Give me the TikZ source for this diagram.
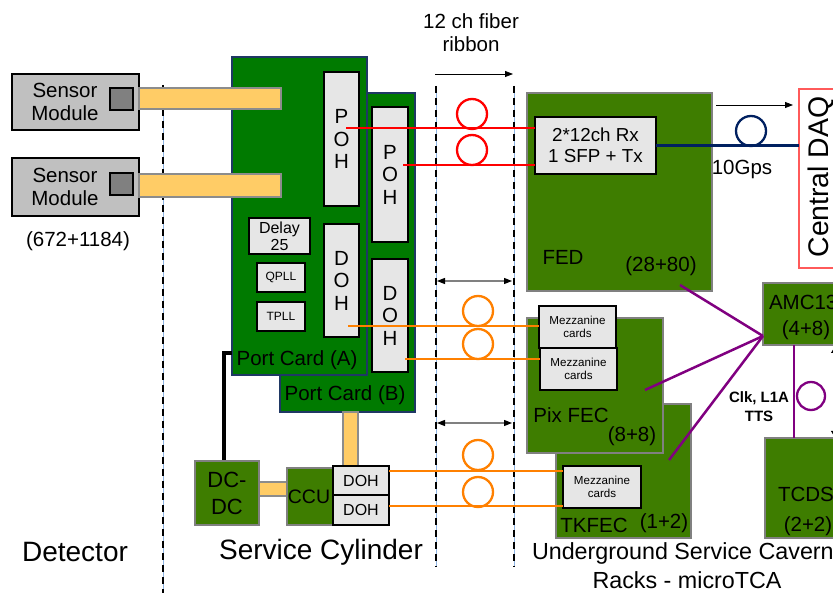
\documentclass[tikz,border=0pt]{standalone}
\usepackage{fontspec}
\setmainfont{Liberation Sans}
\usetikzlibrary{arrows.meta}
\definecolor{sensgray}{RGB}{192,192,192}
\definecolor{sqgray}{RGB}{128,128,128}
\definecolor{ybar}{RGB}{255,204,102}
\definecolor{ybord}{RGB}{140,140,140}
\definecolor{pcgreen}{RGB}{0,122,0}
\definecolor{pcbord}{RGB}{31,56,100}
\definecolor{lbox}{RGB}{230,230,230}
\definecolor{olv}{RGB}{62,125,0}
\definecolor{olvbord}{RGB}{128,128,128}
\definecolor{redl}{RGB}{255,0,0}
\definecolor{orl}{RGB}{255,128,0}
\definecolor{navyl}{RGB}{0,32,96}
\definecolor{purp}{RGB}{128,0,128}
\definecolor{daqred}{RGB}{255,90,90}
\definecolor{guide}{RGB}{142,180,227}
\definecolor{arrgray}{RGB}{128,128,128}
\newcommand\fsz[2]{\fontsize{#1pt}{#2pt}\selectfont}
\newcommand\bx[7]{\node[#1, minimum width=#5pt, minimum height=#6pt] (#2) at (#3,#4) {#7};}
\begin{document}
\begin{tikzpicture}[x=1pt,y=-1pt,
  base/.style={inner sep=0, outer sep=0, anchor=north west, align=center},
  sensor/.style={base, draw=black, line width=2.2pt, fill=sensgray},
  sq/.style={base, draw=black, line width=2pt, fill=sqgray},
  card/.style={base, draw=pcbord, line width=2pt, fill=pcgreen},
  lbx/.style={base, draw=black, line width=2.2pt, fill=lbox},
  olive/.style={base, draw=olvbord, line width=2.5pt, fill=olv},
  yb/.style={base, draw=ybord, line width=2pt, fill=ybar},
  lbl/.style={inner sep=0, outer sep=0, align=center, font=\fsz{20.5}{23}},
  ring/.style={circle, inner sep=0, outer sep=0, line width=2.3pt, minimum size=30pt},
  guideline/.style={draw=guide, line width=0.8pt},
  dline/.style={draw=black, line width=2.6pt, dash pattern=on 7pt off 5pt},
  redw/.style={draw=redl, line width=2.3pt},
  orw/.style={draw=orl, line width=2.3pt},
  purw/.style={draw=purp, line width=2.5pt},
  arr/.style={-{Triangle[length=8pt,width=6pt]}, line width=0.8pt},
  darr/.style={{Triangle[length=8pt,width=6pt,color=black]}-{Triangle[length=8pt,width=6pt,color=black]}, draw=arrgray, line width=1.2pt}
]
\useasboundingbox (0,0) rectangle (833,593);
\clip (0,0) rectangle (833,593);

% dashed separators
\coordinate (d1a) at (163,85);  \coordinate (d1b) at (163,600);
\coordinate (d2a) at (436,86);  \coordinate (d2b) at (436,567);
\coordinate (d3a) at (514,86);  \coordinate (d3b) at (514,567);
\foreach \a/\b in {d1a/d1b,d2a/d2b,d3a/d3b}{
  \draw[guideline] (\a) -- (\b);
  \draw[dline] (\a) -- (\b);
}

% sensor modules
\bx{sensor}{sens1}{12}{74}{127}{56}{}
\bx{sq}{sq1}{110}{88}{23}{22}{}
\node[lbl] (st1) at (65,102) {Sensor\\Module};
\bx{sensor}{sens2}{12}{158}{127}{58}{}
\bx{sq}{sq2}{110}{173}{23}{22}{}
\node[lbl] (st2) at (65,187) {Sensor\\Module};
\node[lbl] (cnt) at (78,241) {(672+1184)};

% port cards
\bx{card}{pcB}{280}{93}{135}{319}{}
\bx{card}{pcA}{232}{57}{135}{318}{}
\node[lbl] (pcAl) at (297,360) {Port Card (A)};
\node[lbl] (pcBl) at (345,395) {Port Card (B)};

% yellow bars
\bx{yb}{bar1}{139}{88}{142}{21}{}
\bx{yb}{bar2}{139}{174}{142}{23}{}
\bx{yb}{bar3}{343}{412}{15}{54}{}
\bx{yb}{bar4}{259}{482}{28}{14}{}

% boxes on port cards
\bx{lbx, font=\fsz{20.5}{22.5}}{pohA}{324}{72}{35}{134}{P\\O\\H}
\bx{lbx, font=\fsz{20.5}{22.5}}{pohB}{372}{107}{36}{135}{P\\O\\H}
\bx{lbx, font=\fsz{20.5}{22.5}}{dohA}{324}{224}{35}{113}{D\\O\\H}
\bx{lbx, font=\fsz{20.5}{22.5}}{dohB}{372}{259}{36}{113}{D\\O\\H}
\bx{lbx, font=\fsz{16}{17}}{delay}{249}{218}{61}{36}{Delay\\25}
\bx{lbx, font=\fsz{12}{14}}{qpll}{257}{263}{48}{29}{QPLL}
\bx{lbx, font=\fsz{12}{14}}{tpll}{257}{302}{48}{29}{TPLL}

% DC-DC, CCU
\draw[line width=4pt] (pcA.west |- 0,353) -- (224,353) -- (224,461);
\bx{olive, font=\fsz{22}{27}}{dcdc}{195}{461}{64}{64}{DC-\\DC}
\bx{olive}{ccu}{287}{468}{46}{57}{}
\node[lbl, font=\fsz{19.5}{22}] (ccut) at (309,497) {CCU};
\bx{lbx, font=\fsz{16}{18}}{doh1}{333}{466}{56}{29}{DOH}
\bx{lbx, font=\fsz{16}{18}}{doh2}{333}{495}{56}{30}{DOH}

% fiber ribbon label and arrows
\node[lbl] (fib) at (471,33) {12 ch fiber\\ribbon};
\coordinate (ta1) at (435,74); \coordinate (ta2) at (513,74);
\draw[arr] (ta1) -- (ta2);
\coordinate (da1) at (437,281); \coordinate (da2) at (512,281);
\draw[darr] (da1) -- (da2);
\coordinate (db1) at (437,423); \coordinate (db2) at (512,423);
\draw[darr] (db1) -- (db2);

% FED
\bx{olive}{fed}{527}{93}{185}{198}{}
\bx{lbx, font=\fsz{18.8}{21.5}}{rx}{535}{117}{121}{57}{2*12ch Rx\\1 SFP + Tx}
\node[lbl] (fedl) at (563,257) {FED};
\node[lbl] (fedn) at (661,266) {(28+80)};

% Central DAQ
\bx{base, draw=daqred, line width=1.2pt, fill=white}{daq}{799}{89}{60}{179}{}
\node[inner sep=0, rotate=90, anchor=base, font=\fsz{28.4}{30}] (daql) at (828,177) {Central DAQ};
\coordinate (fa1) at (716,105); \coordinate (fa2) at (793,105);
\draw[arr] (fa1) -- (fa2);
\draw[draw=navyl, line width=2.3pt] (rx.east) -- (daq.west |- rx.east);
\node[ring, draw=navyl] (nc) at (751,131) {};
\node[lbl] (gbps) at (742,169) {10Gps};

% FECs
\bx{olive}{tkfec}{556}{404}{135}{134}{}
\bx{olive}{pixfec}{527}{318}{136}{135}{}
\bx{lbx, font=\fsz{11.6}{13.5}}{mz1}{539}{306}{77}{42}{Mezzanine\\cards}
\bx{lbx, font=\fsz{11.6}{13.5}}{mz2}{540}{348}{77}{42}{Mezzanine\\cards}
\bx{lbx, font=\fsz{11.6}{13.5}}{mz3}{563}{466}{78}{42}{Mezzanine\\cards}
\node[lbl] (pixl) at (571,415) {Pix FEC};
\node[lbl] (pixn) at (632,436) {(8+8)};
\node[lbl] (tkl) at (594,525) {TKFEC};
\node[lbl] (tkn) at (664,523) {(1+2)};

% AMC13 and TCDS
\bx{olive}{amc}{763}{283}{100}{62}{}
\node[lbl, anchor=west] (amcl) at (769,302) {AMC13};
\node[lbl] (amcn) at (806,330) {(4+8)};
\bx{olive}{tcds}{765}{438}{100}{100}{}
\node[lbl, anchor=west] (tcdsl) at (778,494) {TCDS};
\node[lbl] (tcdsn) at (808,526) {(2+2)};
\draw[purw] (amc.south -| 794,0) -- (tcds.north -| 794,0);
\node[ring, draw=purp, minimum size=28pt] (pc) at (811,396) {};
\node[lbl, font=\bfseries\fsz{15}{19}] (clk) at (759,407) {Clk, L1A\\TTS};
\coordinate (ra1) at (836,345); \coordinate (ra2) at (836,439);
\draw[{Triangle[length=8pt,width=10pt]}-{Triangle[length=8pt,width=10pt]}, line width=1pt] (ra1) -- (ra2);

% purple links
\coordinate (conv) at (763,336);
\coordinate (p1) at (680,285);
\coordinate (p2) at (645,390);
\coordinate (p3) at (669,460);
\foreach \p in {p1,p2,p3} \draw[purw] (\p) -- (conv);

% optical links
\coordinate (r1) at (346,128);
\coordinate (r2) at (403,165);
\draw[redw] (r1) -- (rx.west |- r1);
\draw[redw] (r2) -- (rx.west |- r2);
\node[ring, draw=redl] (rc1) at (472,114) {};
\node[ring, draw=redl] (rc2) at (472,150) {};
\coordinate (o1) at (348,326);
\coordinate (o2) at (405,359);
\draw[orw] (o1) -- (mz1.west |- o1);
\draw[orw] (o2) -- (mz2.west |- o2);
\node[ring, draw=orl] (oc1) at (478,311) {};
\node[ring, draw=orl] (oc2) at (478,344) {};
\coordinate (o3) at (389,471);
\coordinate (o4) at (389,506);
\draw[orw] (o3) -- (mz3.west |- o3);
\draw[orw] (o4) -- (mz3.west |- o4);
\node[ring, draw=orl] (oc3) at (478,455) {};
\node[ring, draw=orl] (oc4) at (478,492) {};

% bottom labels
\node[lbl, font=\fsz{28}{30}] (det) at (75,552) {Detector};
\node[lbl, font=\fsz{28}{30}] (svc) at (321,552) {Service Cylinder};
\node[lbl, font=\fsz{23.3}{26}, anchor=west] (ugc) at (532,553) {Underground Service Cavern};
\node[lbl, font=\fsz{23.3}{26}] (rck) at (687,580) {Racks - microTCA};
\end{tikzpicture}
\end{document}
